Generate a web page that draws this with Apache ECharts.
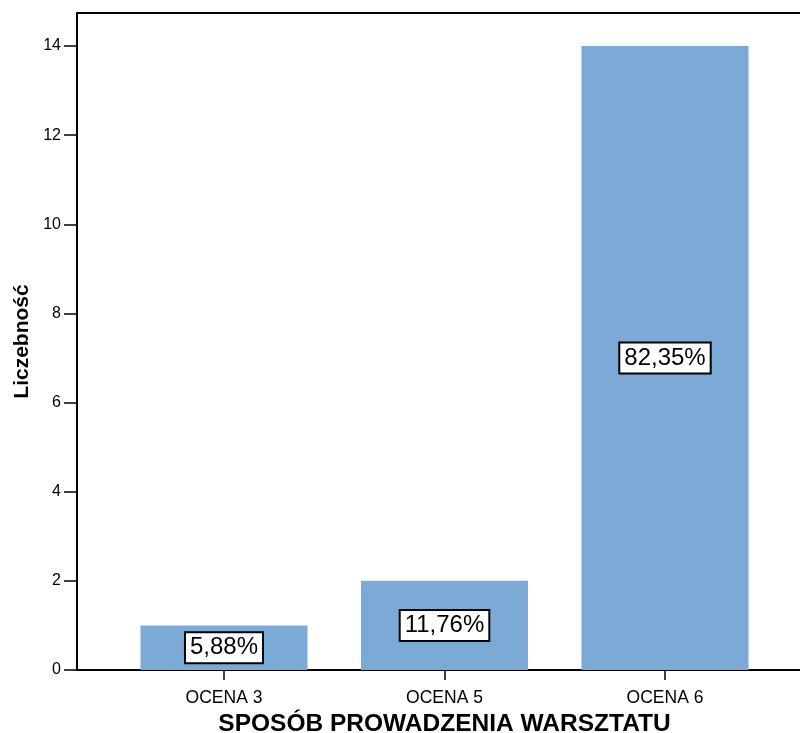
<!DOCTYPE html>
<html>
<head>
<meta charset="utf-8">
<script src="https://cdn.jsdelivr.net/npm/echarts@6/dist/echarts.min.js"></script>
<style>
html,body{margin:0;padding:0;background:#fff;}
#chart{width:800px;height:733px;}
</style>
</head>
<body>
<div id="chart"></div>
<script>
const categories = ['OCENA 3', 'OCENA 5', 'OCENA 6'];
const counts = [1, 2, 14];
const percentLabels = ['5,88%', '11,76%', '82,35%'];
const yTicks = [0, 2, 4, 6, 8, 10, 12, 14];
const xTitle = 'SPOSÓB PROWADZENIA WARSZTATU';
const yTitle = 'Liczebność';

const font = '"Liberation Sans", Arial, sans-serif';
const chart = echarts.init(document.getElementById('chart'), null, {renderer: 'canvas'});
const catIdx = categories.map((c, i) => i);

chart.setOption({
  animation: false,
  backgroundColor: '#fff',
  grid: {left: 77, top: 13, bottom: 63, right: -12, containLabel: false, outerBoundsMode: 'none'},
  xAxis: [{
    type: 'value',
    min: -2/3,
    max: 8/3,
    position: 'bottom',
    splitLine: {show: false},
    axisLine: {show: true, onZero: false, lineStyle: {color: '#000', width: 2}},
    axisTick: {show: true, customValues: catIdx, length: 10, lineStyle: {color: '#000', width: 1.5}},
    axisLabel: {
      customValues: catIdx,
      formatter: v => categories[Math.round(v)] || '',
      color: '#000', fontSize: 17.5, fontFamily: font, margin: 19
    },
    name: xTitle,
    nameLocation: 'middle',
    nameGap: 42,
    nameTextStyle: {color: '#000', fontSize: 24.5, fontWeight: 'bold', fontFamily: font}
  }, {
    type: 'value',
    min: -2/3,
    max: 8/3,
    position: 'top',
    splitLine: {show: false},
    axisLine: {show: true, onZero: false, lineStyle: {color: '#000', width: 2}},
    axisTick: {show: false},
    axisLabel: {show: false}
  }],
  yAxis: {
    type: 'value',
    min: 0,
    max: 14.74,
    splitLine: {show: false},
    axisLine: {show: true, onZero: false, lineStyle: {color: '#000', width: 2}},
    axisTick: {show: true, customValues: yTicks, length: 13, lineStyle: {color: '#000', width: 1.5}},
    axisLabel: {customValues: yTicks, color: '#000', fontSize: 16, fontFamily: font, margin: 16},
    name: yTitle,
    nameLocation: 'middle',
    nameGap: 37,
    nameTextStyle: {color: '#000', fontSize: 21, fontWeight: 'bold', fontFamily: font}
  },
  series: [{
    type: 'bar',
    xAxisIndex: 0,
    barWidth: 167,
    data: counts.map((v, i) => [i, v]),
    itemStyle: {color: '#7BAAD7'},
    label: {
      show: true,
      position: 'inside',
      formatter: p => percentLabels[p.dataIndex],
      color: '#000',
      fontSize: 24,
      fontFamily: font,
      backgroundColor: '#fff',
      borderColor: '#000',
      borderWidth: 2,
      padding: [3, 4, 2, 4]
    }
  }]
});
</script>
</body>
</html>
